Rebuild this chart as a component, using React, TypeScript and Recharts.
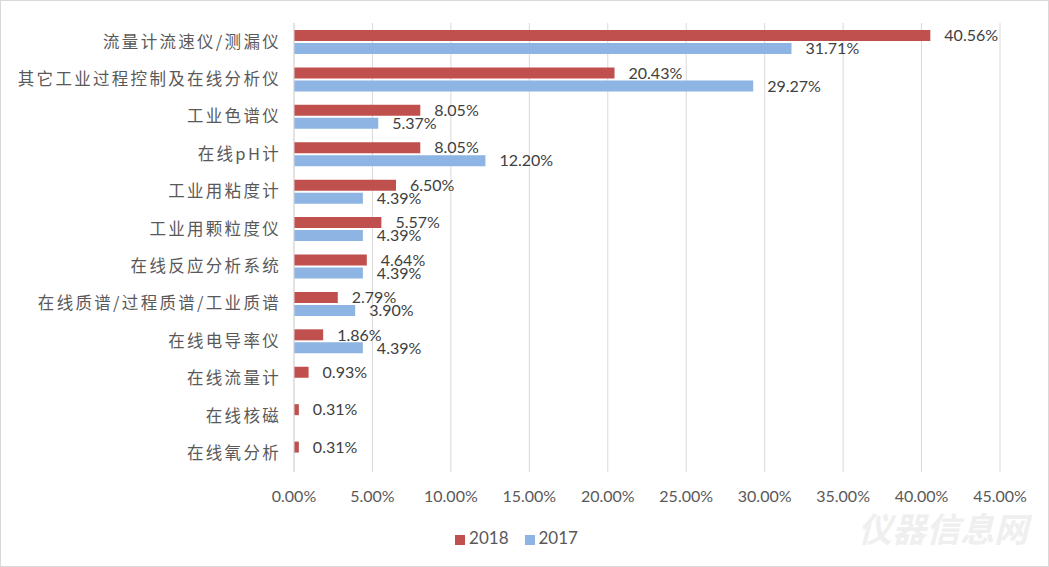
import React from "react";
import {
  Bar,
  BarChart,
  CartesianGrid,
  LabelList,
  Legend,
  XAxis,
  YAxis,
} from "recharts";

const categories = [
  "流量计流速仪/测漏仪",
  "其它工业过程控制及在线分析仪",
  "工业色谱仪",
  "在线pH计",
  "工业用粘度计",
  "工业用颗粒度仪",
  "在线反应分析系统",
  "在线质谱/过程质谱/工业质谱",
  "在线电导率仪",
  "在线流量计",
  "在线核磁",
  "在线氧分析",
];
const values2018 = [40.56, 20.43, 8.05, 8.05, 6.5, 5.57, 4.64, 2.79, 1.86, 0.93, 0.31, 0.31];
const values2017 = [31.71, 29.27, 5.37, 12.2, 4.39, 4.39, 4.39, 3.9, 4.39, null, null, null];
const xTicks = [0, 5, 10, 15, 20, 25, 30, 35, 40, 45];

const data = categories.map((name, i) => ({
  name,
  y2018: values2018[i],
  y2017: values2017[i],
}));

const pct = (v: any) =>
  v === null || v === undefined || v === "" ? "" : `${Number(v).toFixed(2)}%`;

const labelFont = "Lato, 'Noto Sans', sans-serif";
const cjkFont = "'Noto Sans CJK SC', sans-serif";

// legend keeps series order: 2018 then 2017
const legendOrder = ["2018", "2017"];

export default function App() {
  return (
    <div
      style={{
        position: "absolute",
        left: 0,
        top: 0,
        width: 1047,
        height: 565,
        border: "1px solid #d9d9d9",
        background: "#fff",
        overflow: "hidden",
      }}
    >
      <BarChart
        width={1047}
        height={565}
        data={data}
        layout="vertical"
        margin={{ top: 22, right: 48, bottom: 18, left: 0 }}
        barSize={11}
        barGap={2}
      >
        <CartesianGrid horizontal={false} stroke="#d9d9d9" />
        <XAxis
          type="number"
          domain={[0, 45]}
          ticks={xTicks}
          tickFormatter={pct}
          axisLine={false}
          tickLine={false}
          tickMargin={13}
          height={55}
          tick={{ fill: "#595959", fontSize: 16, fontFamily: labelFont }}
        />
        <YAxis
          type="category"
          dataKey="name"
          width={293}
          tickLine={false}
          axisLine={{ stroke: "#d9d9d9" }}
          tickMargin={7}
          interval={0}
          tick={{
            fill: "#595959",
            fontSize: 16.5,
            fontFamily: cjkFont,
            letterSpacing: 2.3,
          }}
        />
        <Legend
          verticalAlign="bottom"
          align="center"
          iconType="square"
          iconSize={10}
          wrapperStyle={{ left: 0, width: 1047, paddingLeft: 0, paddingRight: 22 }}
          itemSorter={(item: any) => legendOrder.indexOf(String(item.value))}
          formatter={(value: any) => (
            <span
              style={{
                color: "#595959",
                fontSize: 17,
                fontFamily: labelFont,
                marginRight: 6,
              }}
            >
              {value}
            </span>
          )}
        />
        <Bar dataKey="y2018" name="2018" fill="#C0504D" isAnimationActive={false}>
          <LabelList
            dataKey="y2018"
            position="right"
            offset={14}
            formatter={pct}
            fill="#404040"
            fontSize={16}
            fontFamily={labelFont}
          />
        </Bar>
        <Bar dataKey="y2017" name="2017" fill="#8DB4E2" isAnimationActive={false}>
          <LabelList
            dataKey="y2017"
            position="right"
            offset={14}
            formatter={pct}
            fill="#404040"
            fontSize={16}
            fontFamily={labelFont}
          />
        </Bar>
      </BarChart>
      <div
        style={{
          position: "absolute",
          right: 20,
          bottom: 14,
          color: "#efefef",
          fontSize: 34,
          fontFamily: cjkFont,
          fontWeight: 700,
          fontStyle: "italic",
          pointerEvents: "none",
        }}
      >
        仪器信息网
      </div>
    </div>
  );
}
